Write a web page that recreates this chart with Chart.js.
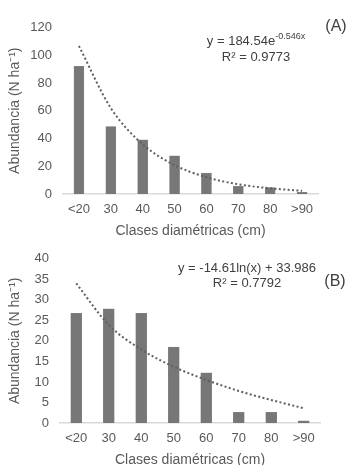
<!DOCTYPE html>
<html>
<head>
<meta charset="utf-8">
<script src="https://cdn.jsdelivr.net/npm/chart.js@4"></script>
<style>
html,body{margin:0;padding:0;width:358px;height:465px;overflow:hidden;background:#fff;}
#wa{position:absolute;left:0;top:0;width:358px;height:240px;}
#wb{position:absolute;left:0;top:240px;width:358px;height:229px;}
</style>
</head>
<body>
<div id="wa"><canvas id="ca" width="358" height="240"></canvas></div>
<div id="wb"><canvas id="cb" width="358" height="229"></canvas></div>
<script>
const categories = ['<20', '30', '40', '50', '60', '70', '80', '>90'];
const abundanceA = [92, 48.5, 39, 27.5, 15, 5.5, 4.7, 1.2];
const trendA = [106.6, 61.9, 35.8, 20.8, 12.1, 7.0, 4.1, 2.3];
const abundanceB = [26.7, 27.8, 26.7, 18.5, 12.2, 2.6, 2.6, 0.5];
const trendB = [34.0, 23.9, 17.9, 13.7, 10.5, 7.8, 5.6, 3.6];
const yTicksA = [0, 120, 20];
const yTicksB = [0, 40, 5];
const xTitle = 'Clases diamétricas (cm)';
const yTitle = 'Abundancia (N ha⁻¹)';
const eqA = ['y = 184.54e', '-0.546x'];
const r2A = 'R² = 0.9773';
const eqB = 'y = -14.61ln(x) + 33.986';
const r2B = 'R² = 0.7792';

const FONT = "'Liberation Sans', Arial, sans-serif";
const TICK = '#595959';
const TXT = '#404040';

const textPlugin = {
  id: 'texts',
  afterDraw(chart, args, opts) {
    const ctx = chart.ctx;
    ctx.save();
    ctx.fillStyle = TXT;
    ctx.textBaseline = 'middle';
    (opts.items || []).forEach(it => {
      if (it.sup) {
        ctx.font = it.size + 'px ' + FONT;
        const w1 = ctx.measureText(it.text).width;
        ctx.font = it.supSize + 'px ' + FONT;
        const w2 = ctx.measureText(it.sup).width;
        const x0 = it.x - (w1 + w2) / 2;
        ctx.textAlign = 'left';
        ctx.font = it.size + 'px ' + FONT;
        ctx.fillText(it.text, x0, it.y);
        ctx.font = it.supSize + 'px ' + FONT;
        ctx.fillText(it.sup, x0 + w1, it.y - 4);
      } else {
        ctx.font = it.size + 'px ' + FONT;
        ctx.textAlign = it.align || 'center';
        ctx.fillStyle = it.color || TXT;
        ctx.fillText(it.text, it.x, it.y);
      }
    });
    ctx.restore();
  }
};

function makeChart(id, bars, trend, yt, cfg) {
  return new Chart(document.getElementById(id), {
    type: 'bar',
    data: {
      labels: categories,
      datasets: [
        {
          type: 'line', data: trend, order: 0,
          borderColor: '#5f5f5f', borderWidth: 2, borderDash: [2, 2.4],
          pointRadius: 0, cubicInterpolationMode: 'monotone', fill: false
        },
        {
          type: 'bar', data: bars, order: 1,
          backgroundColor: '#777777', borderColor: '#8a8a8a', borderWidth: 0.5,
          barThickness: cfg.barW
        }
      ]
    },
    options: {
      responsive: false,
      animation: false,
      devicePixelRatio: 1,
      layout: { padding: { top: cfg.top, right: cfg.right, left: 0, bottom: 0 } },
      plugins: {
        legend: { display: false },
        tooltip: { enabled: false },
        texts: { items: cfg.texts }
      },
      scales: {
        x: {
          grid: { display: false, drawTicks: false },
          border: { display: true, color: '#d9d9d9', width: 1.5 },
          ticks: { color: TICK, font: { family: FONT, size: 13 }, padding: 8, maxRotation: 0, autoSkip: false },
          title: { display: true, text: xTitle, color: TICK, font: { family: FONT, size: 14 }, padding: 0 },
          afterFit(s) { s.height = 46; }
        },
        y: {
          min: yt[0], max: yt[1],
          grid: { display: false, drawTicks: false },
          border: { display: false },
          ticks: { stepSize: yt[2], color: TICK, font: { family: FONT, size: 13 }, padding: 11 },
          title: { display: true, text: yTitle, color: TICK, font: { family: FONT, size: 14 }, padding: { top: 6.5, bottom: 0 } },
          afterFit(s) { s.width = cfg.left; }
        }
      }
    },
    plugins: [textPlugin]
  });
}

makeChart('ca', abundanceA, trendA, yTicksA, {
  top: 27.4, right: 40, left: 63, barW: 10,
  texts: [
    { text: eqA[0], sup: eqA[1], size: 13, supSize: 9, x: 256, y: 41 },
    { text: r2A, size: 13, x: 256, y: 57 },
    { text: '(A)', size: 16, x: 336, y: 27 }
  ]
});
makeChart('cb', abundanceB, trendB, yTicksB, {
  top: 12.3, right: 38, left: 60, barW: 11,
  texts: [
    { text: eqB, size: 13, x: 247, y: 28 },
    { text: r2B, size: 13, x: 247, y: 43 },
    { text: '(B)', size: 16, x: 335, y: 42 }
  ]
});
</script>
</body>
</html>
